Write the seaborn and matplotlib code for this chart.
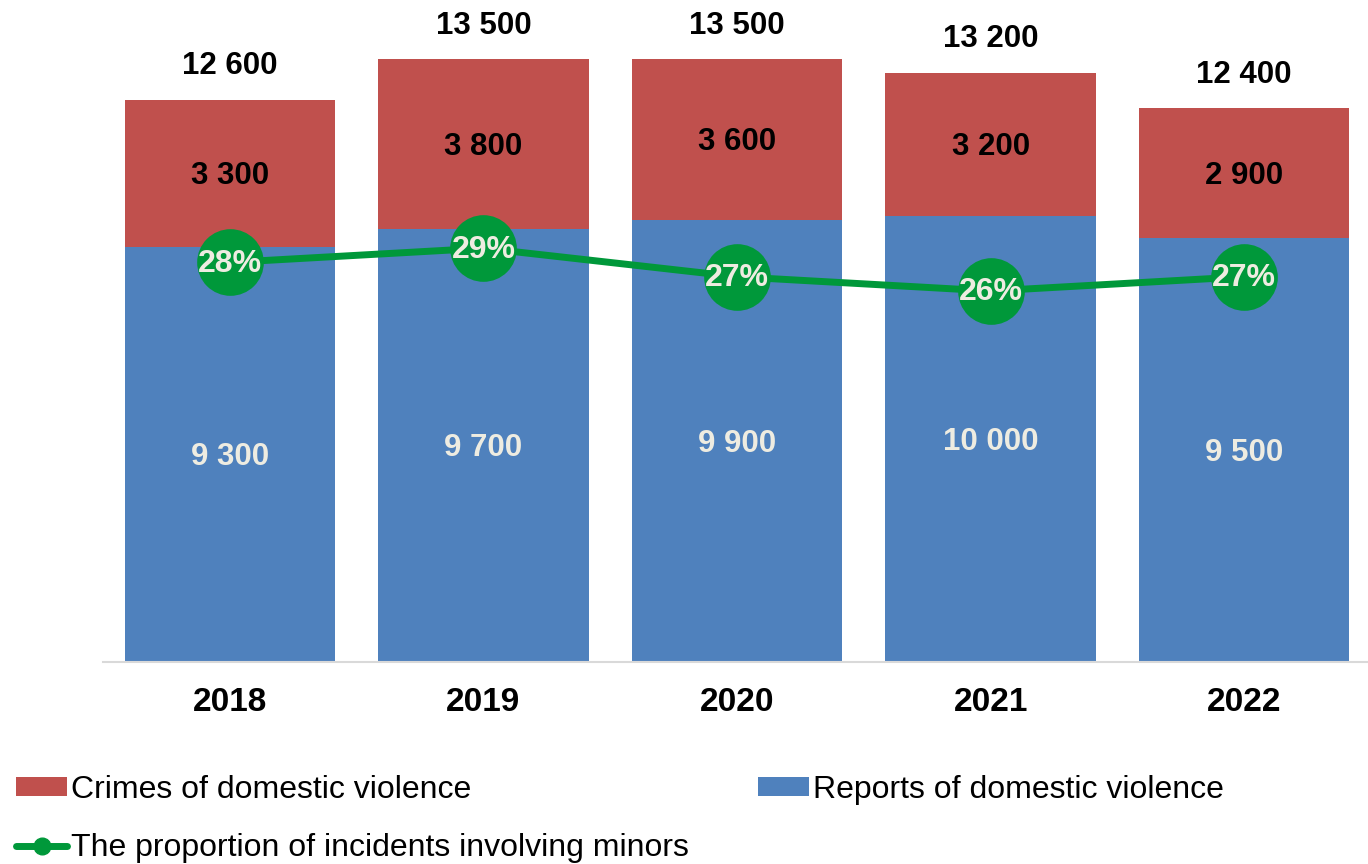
import matplotlib
matplotlib.use("Agg")
import matplotlib.pyplot as plt
import seaborn as sns
import numpy as np
import pandas as pd
from matplotlib.patches import Patch
from matplotlib.lines import Line2D

years = ["2018", "2019", "2020", "2021", "2022"]
reports = [9300, 9700, 9900, 10000, 9500]
crimes = [3300, 3800, 3600, 3200, 2900]
minors_share = [0.28, 0.29, 0.27, 0.26, 0.27]

totals = [r + c for r, c in zip(reports, crimes)]

RED = "#C0504D"
BLUE = "#4F81BD"
GREEN = "#00983A"
LIGHT = "#EEECE1"

sns.set_theme(style="white")
plt.rcParams["font.family"] = ["Liberation Sans", "DejaVu Sans"]
plt.rcParams["text.color"] = "black"

fig = plt.figure(figsize=(13.68, 8.64), dpi=100)
ax = fig.add_axes([103 / 1368, 202 / 864, 1268 / 1368, 625 / 864])

df = pd.DataFrame({"year": years, "reports": reports, "crimes": crimes, "total": totals})

sns.barplot(data=df, x="year", y="total", color=RED, saturation=1, width=0.83, ax=ax, linewidth=0)
sns.barplot(data=df, x="year", y="reports", color=BLUE, saturation=1, width=0.83, ax=ax, linewidth=0)

ax.set_ylim(0, 14000)
ax.set_xlim(-0.5, 4.5)
ax.set_xlabel("")
ax.set_ylabel("")
ax.set_yticks([])
for s in ["top", "right", "left"]:
    ax.spines[s].set_visible(False)
ax.spines["bottom"].set_color("#D9D9D9")
ax.spines["bottom"].set_linewidth(1.5)
ax.tick_params(axis="x", length=0, pad=18)
for lbl in ax.get_xticklabels():
    lbl.set_fontsize(24)
    lbl.set_fontweight("bold")
    lbl.set_color("black")

def fmt(v):
    return f"{v:,}".replace(",", " ")

VS = 22.5
for i in range(len(years)):
    ax.annotate(fmt(reports[i]), (i, reports[i] / 2), xytext=(0, -2), textcoords="offset points",
                ha="center", va="center", fontsize=VS, fontweight="bold", color=LIGHT)
    ax.annotate(fmt(crimes[i]), (i, reports[i] + crimes[i] / 2), xytext=(0, -2),
                textcoords="offset points", ha="center", va="center",
                fontsize=VS, fontweight="bold", color="black")
    ax.annotate(fmt(totals[i]), (i, totals[i]), xytext=(0, 24), textcoords="offset points",
                ha="center", va="center", fontsize=VS, fontweight="bold", color="black",
                annotation_clip=False)

ax2 = ax.twinx()
pos = np.arange(len(years))
sns.lineplot(x=pos, y=minors_share, ax=ax2, color=GREEN, linewidth=5, marker="o",
             markersize=48, markeredgewidth=0, markerfacecolor=GREEN)
ax2.set_ylim(0, 0.438)
ax2.set_yticks([])
ax2.set_xlim(-0.5, 4.5)
for s in ax2.spines.values():
    s.set_visible(False)
for i in range(len(years)):
    ax2.annotate(f"{minors_share[i]*100:.0f}%", (pos[i], minors_share[i]), xytext=(0, -1),
                 textcoords="offset points", ha="center", va="center",
                 fontsize=23, fontweight="bold", color=LIGHT)

h_crimes = Patch(facecolor=RED, edgecolor="none")
h_reports = Patch(facecolor=BLUE, edgecolor="none")
h_line = Line2D([0], [0], color=GREEN, linewidth=5, marker="o", markersize=12)

common = dict(frameon=False, fontsize=23, handlelength=1.6, handleheight=0.55,
              handletextpad=0.12, borderpad=0, borderaxespad=0, loc="center left",
              labelcolor="black")
fig.legend([h_crimes], ["Crimes of domestic violence"],
           bbox_to_anchor=(16 / 1368, 1 - 790 / 864), **common)
fig.legend([h_reports], ["Reports of domestic violence"],
           bbox_to_anchor=(758 / 1368, 1 - 790 / 864), **common)
fig.legend([h_line], ["The proportion of incidents involving minors"],
           bbox_to_anchor=(16 / 1368, 1 - 848 / 864), **common)

fig.savefig("out.png", dpi=100)
